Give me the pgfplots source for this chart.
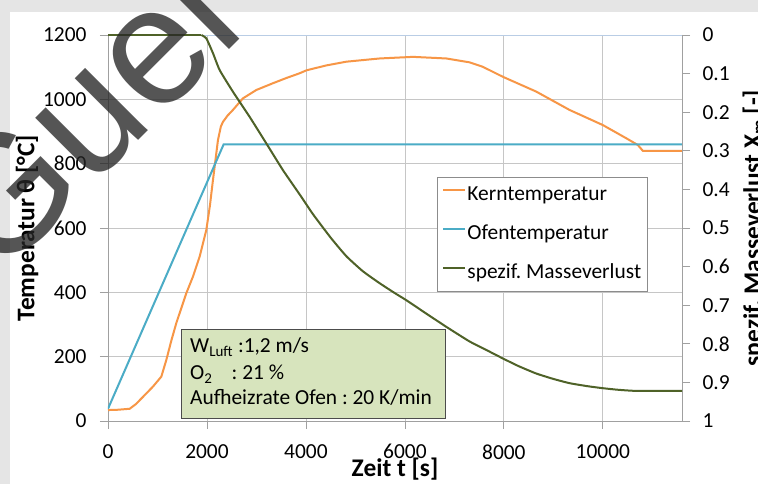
\documentclass[border=0pt]{standalone}
\usepackage{fontspec}
\setmainfont{Carlito}
\newfontfamily\markfont{Liberation Sans}
\usepackage{pgfplots}
\usepackage{pgfplotstable}
\pgfplotsset{compat=1.18}
\frenchspacing

\definecolor{kern}{HTML}{F79646}
\definecolor{ofen}{HTML}{4BACC6}
\definecolor{mass}{HTML}{4F6228}
\definecolor{gridc}{HTML}{C6C6C6}
\definecolor{axisc}{HTML}{A0A0A0}
\definecolor{topc}{HTML}{B9CDE5}
\definecolor{boxfill}{HTML}{D7E4BD}

% Kerntemperatur [°C] over Zeit [s]
\pgfplotstableread{
t T
0 34
200 35
438 38
560 52
707 75
909 107
1078 138
1179 190
1280 250
1380 304
1582 397
1720 450
1852 511
1987 594
2060 670
2121 749
2222 873
2280 915
2323 930
2420 950
2525 967
2727 1003
2997 1029
3333 1050
3600 1066
3873 1081
4008 1090
4400 1105
4816 1117
5489 1127
6162 1132
6836 1127
7307 1115
7576 1101
7980 1070
8654 1024
9327 967
10000 920
10473 879
10707 858
10808 840
11600 840
}\kerntable

% Ofentemperatur [°C]
\pgfplotstableread{
t T
0 38
2337 860
11600 860
}\ofentable

% spezifischer Masseverlust [-], Anfangsphase ohne Verlust
\pgfplotstableread{
t X
0 0
1887 0
}\massflat

% spezifischer Masseverlust [-], Abbrandphase
\pgfplotstableread{
t X
1887 0
1988 0.009
2121 0.047
2257 0.091
2525 0.147
2862 0.212
3200 0.281
3535 0.350
3873 0.413
4141 0.464
4500 0.525
4816 0.573
5150 0.612
5489 0.643
5800 0.669
6028 0.687
6400 0.719
6836 0.756
7307 0.794
7600 0.813
7980 0.838
8300 0.858
8654 0.877
9000 0.891
9327 0.902
9700 0.910
10000 0.915
10300 0.919
10673 0.922
11600 0.922
}\masstable

\newcommand{\chartfont}{\fontsize{21.5}{24}\selectfont}
\newcommand{\titlefont}{\fontsize{25.5}{28}\selectfont\bfseries}

\begin{document}
\begin{tikzpicture}[x=1bp,y=1bp]
\useasboundingbox (-108,-63) rectangle (650,421);
\fill[black!10] (-108,-63) rectangle (650,421);
\fill[white] (-98,-63) rectangle (650,409);

\begin{axis}[
  at={(0,0)}, anchor=south west,
  scale only axis, width=574bp, height=386bp,
  xmin=0, xmax=11600, ymin=0, ymax=1200,
  xtick={0,2000,4000,6000,8000,10000},
  ytick={0,200,400,600,800,1000,1200},
  scaled x ticks=false, scaled y ticks=false,
  axis x line*=bottom, axis y line*=left,
  axis line style={-, draw=axisc, line width=0.75bp},
  tick align=outside, major tick length=8bp,
  tick style={draw=axisc, line width=0.75bp},
  grid=major, grid style={draw=gridc, line width=0.75bp},
  ticklabel style={font=\chartfont},
  yticklabel style={xshift=-10bp},
  xticklabel style={yshift=-12bp},
  /pgf/number format/assume math mode=true,
  /pgf/number format/1000 sep={},
  xlabel={Zeit t [s]},
  xlabel style={at={(axis description cs:0.5,-0.1425)}, anchor=base, font=\titlefont},
  ylabel={Temperatur θ [°C]},
  ylabel style={at={(axis description cs:-0.1282,0.5)}, rotate=0, anchor=base, font=\titlefont},
]
\addplot[kern, line width=2bp] table[x=t, y=T] {\kerntable};
\addplot[ofen, line width=2bp] table[x=t, y=T] {\ofentable};
\end{axis}

\begin{axis}[
  at={(0,0)}, anchor=south west,
  scale only axis, width=574bp, height=386bp,
  xmin=0, xmax=11600, ymin=0, ymax=1, y dir=reverse,
  axis x line=none, axis y line*=right,
  axis line style={-, draw=axisc, line width=0.75bp},
  tick align=outside, major tick length=8bp,
  tick style={draw=axisc, line width=0.75bp},
  ytick={0,0.1,0.2,0.3,0.4,0.5,0.6,0.7,0.8,0.9,1},
  yticklabels={0,0.1,0.2,0.3,0.4,0.5,0.6,0.7,0.8,0.9,1},
  ticklabel style={font=\chartfont},
  yticklabel style={xshift=9bp},
  ylabel={spezif. Masseverlust X\textsubscript{m} [-]},
  ylabel style={at={(axis description cs:1.1376,0.5)}, rotate=0, anchor=base, font=\titlefont},
  legend style={at={(axis description cs:0.5732,0.6321)}, anchor=north west,
    draw=black!45, line width=0.75bp, fill=white, font=\chartfont,
    inner xsep=5bp, inner ysep=7bp, row sep=17bp,
    nodes={inner sep=1bp, text height=15bp, text depth=5bp},
    cells={anchor=west}},
  legend image code/.code={\draw[#1] (0bp,5bp) -- (22bp,5bp);},
]
\draw[topc, line width=0.75bp] (rel axis cs:0,1) -- (rel axis cs:1,1);
\addlegendimage{kern, line width=2bp}
\addlegendentry{Kerntemperatur}
\addlegendimage{ofen, line width=2bp}
\addlegendentry{Ofentemperatur}
\addplot[mass, line width=2bp, line join=round] table[x=t, y=X] {\massflat};
\addlegendentry{spezif. Masseverlust}
\addplot[mass, line width=2bp, smooth, tension=0.3, forget plot] table[x=t, y=X] {\masstable};
\end{axis}

% Versuchsbedingungen
\fill[boxfill, draw=black!70, line width=0.75bp] (73,3) rectangle (337,92);
\begin{scope}[every node/.style={anchor=base west, inner sep=0pt, font=\chartfont}]
\node at (82,68) {W\textsubscript{Luft} :1,2 m/s};
\node at (82,41) {O\textsubscript{2}};
\node at (123.5,41) {: 21 \%};
\node at (82,16) {Aufheizrate Ofen : 20 K/min};
\end{scope}

% Wasserzeichen
\begin{scope}
\clip (-108,-63) rectangle (650,421);
\node[anchor=base west, inner sep=0pt, rotate=45, text=black!85, opacity=0.78,
  font=\markfont\fontsize{168}{168}\selectfont] at (-110,140) {Guel};
\end{scope}
\end{tikzpicture}
\end{document}
